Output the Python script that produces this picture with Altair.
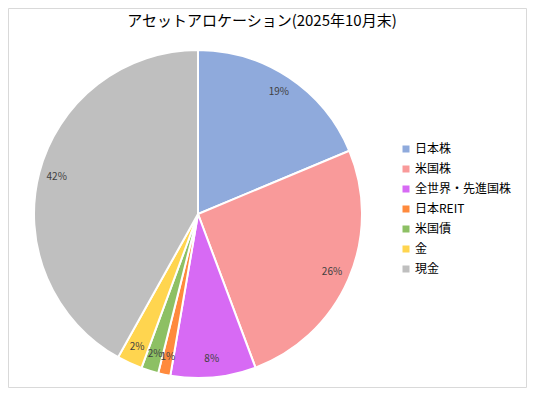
import altair as alt
import pandas as pd

categories = ["日本株", "米国株", "全世界・先進国株", "日本REIT", "米国債", "金", "現金"]
values = [18.7, 25.6, 8.4, 1.2, 1.7, 2.5, 41.9]
labels = ["19%", "26%", "8%", "1%", "2%", "2%", "42%"]
colors = ["#8FAADC", "#F99A9A", "#D76AF4", "#FF8A3D", "#8DC064", "#FFD54F", "#BFBFBF"]
title_text = "アセットアロケーション(2025年10月末)"

FONT = "Noto Sans CJK JP"

df = pd.DataFrame({"cat": categories, "val": values, "lab": labels, "ord": list(range(len(categories)))})

CX, CY = 190, 206

border = alt.Chart(pd.DataFrame({"b": [0]})).mark_rect(
    fill="white", stroke="#D9D9D9", strokeWidth=1
).encode(
    x=alt.value(0.5), x2=alt.value(518.5), y=alt.value(0.5), y2=alt.value(379.5)
)

base = alt.Chart(df).encode(
    theta=alt.Theta("val:Q", stack=True),
    order=alt.Order("ord:Q"),
)

pie = base.mark_arc(outerRadius=164, stroke="white", strokeWidth=2).encode(
    color=alt.Color(
        "cat:N",
        scale=alt.Scale(domain=categories, range=colors),
        legend=alt.Legend(
            title=None,
            orient="none",
            legendX=392,
            legendY=135,
            symbolType="square",
            symbolSize=49,
            symbolStrokeWidth=0,
            labelFontSize=12,
            labelFont=FONT,
            labelColor="#000000",
            labelOffset=3,
            rowPadding=8,
            labelLimit=300,
        ),
    ),
    x=alt.value(CX),
    y=alt.value(CY),
)

text = base.mark_text(radius=146, fontSize=10, color="#404040", font=FONT).encode(
    text="lab:N",
    detail="cat:N",
    x=alt.value(CX),
    y=alt.value(CY),
)

title = alt.Chart(pd.DataFrame({"t": [title_text]})).mark_text(
    fontSize=15, font=FONT, color="#000000", baseline="middle", align="center"
).encode(text="t:N", x=alt.value(254), y=alt.value(13))

chart = alt.layer(border, pie, text, title).properties(
    width=519, height=380, padding=0, autosize=alt.AutoSizeParams(type="none")
).configure_view(stroke=None)

chart.save("out.html", embed_options={"renderer": "svg", "actions": False})
